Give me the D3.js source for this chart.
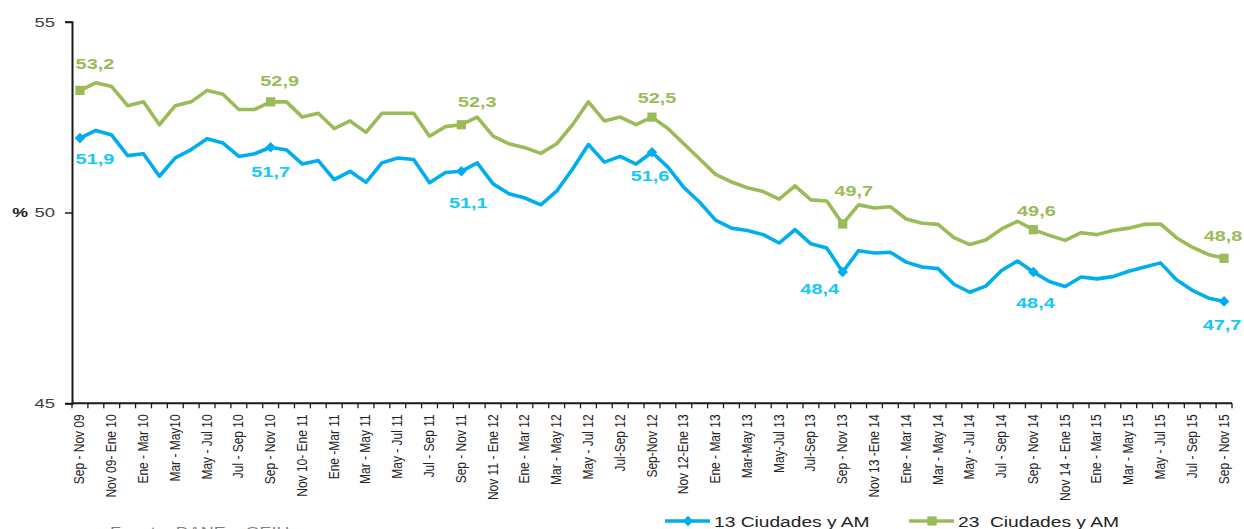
<!DOCTYPE html>
<html>
<head>
<meta charset="utf-8">
<script src="https://cdn.jsdelivr.net/npm/d3@7"></script>
<style>
  html, body { margin: 0; padding: 0; background: #fff; }
  svg { display: block; }
  text { font-family: "Liberation Sans", Arial, sans-serif; }
</style>
</head>
<body>
<svg id="chart" width="1244" height="529"></svg>
<script>
// ---------- DATA ----------
const categories = [
  "Sep - Nov 09", "Oct - Dic 09", "Nov 09- Ene 10", "Dic 09 - Feb 10", "Ene - Mar 10", "Feb - Abr 10",
  "Mar - May10", "Abr - Jun 10", "May - Jul 10", "Jun - Ago 10", "Jul - Sep 10", "Ago - Oct 10",
  "Sep - Nov 10", "Oct - Dic 10", "Nov 10- Ene 11", "Dic 10 - Feb 11", "Ene -Mar 11", "Feb - Abr 11",
  "Mar - May 11", "Abr - Jun 11", "May - Jul 11", "Jun - Ago 11", "Jul - Sep 11", "Ago - Oct 11",
  "Sep - Nov 11", "Oct - Dic 11", "Nov 11 - Ene 12", "Dic 11 - Feb 12", "Ene - Mar 12", "Feb - Abr 12",
  "Mar - May 12", "Abr - Jun 12", "May - Jul 12", "Jun - Ago 12", "Jul-Sep 12", "Ago - Oct 12",
  "Sep-Nov 12", "Oct - Dic 12", "Nov 12-Ene 13", "Dic 12 - Feb 13", "Ene - Mar 13", "Feb - Abr 13",
  "Mar-May 13", "Abr - Jun 13", "May-Jul 13", "Jun - Ago 13", "Jul-Sep 13", "Ago - Oct 13",
  "Sep - Nov 13", "Oct - Dic 13", "Nov 13 -Ene 14", "Dic 13 - Feb 14", "Ene - Mar 14", "Feb - Abr 14",
  "Mar - May 14", "Abr - Jun 14", "May - Jul 14", "Jun - Ago 14", "Jul - Sep 14", "Ago - Oct 14",
  "Sep - Nov 14", "Oct - Dic 14", "Nov 14 - Ene 15", "Dic 14 - Feb 15", "Ene - Mar 15", "Feb - Abr 15",
  "Mar - May 15", "Abr - Jun 15", "May - Jul 15", "Jun - Ago 15", "Jul - Sep 15", "Ago - Oct 15",
  "Sep - Nov 15"
];

// Every other category is labelled on the axis
const tickLabels = categories.filter((d, i) => i % 2 === 0);

const series13 = [
  51.95, 52.15, 52.03, 51.49, 51.54, 50.95, 51.43, 51.65, 51.93, 51.82,
  51.47, 51.54, 51.71, 51.64, 51.27, 51.36, 50.86, 51.08, 50.79, 51.30,
  51.43, 51.39, 50.78, 51.05, 51.08, 51.30, 50.75, 50.49, 50.38, 50.20,
  50.56, 51.14, 51.78, 51.32, 51.47, 51.27, 51.58, 51.19, 50.66, 50.27,
  49.80, 49.59, 49.53, 49.42, 49.20, 49.55, 49.18, 49.07, 48.44, 49.00,
  48.94, 48.96, 48.70, 48.57, 48.53, 48.12, 47.91, 48.07, 48.48, 48.73,
  48.44, 48.19, 48.06, 48.31, 48.26, 48.32, 48.46, 48.57, 48.68, 48.24,
  47.96, 47.76, 47.67
];

const series23 = [
  53.20, 53.40, 53.30, 52.80, 52.90, 52.30, 52.80, 52.90, 53.20, 53.10,
  52.70, 52.70, 52.90, 52.90, 52.50, 52.60, 52.20, 52.40, 52.10, 52.60,
  52.60, 52.60, 52.00, 52.25, 52.30, 52.50, 52.00, 51.80, 51.70, 51.55,
  51.80, 52.30, 52.90, 52.40, 52.50, 52.30, 52.50, 52.20, 51.80, 51.40,
  51.00, 50.80, 50.65, 50.55, 50.35, 50.70, 50.33, 50.30, 49.70, 50.20,
  50.12, 50.15, 49.83, 49.72, 49.69, 49.34, 49.16, 49.28, 49.57, 49.77,
  49.55, 49.40, 49.27, 49.47, 49.42, 49.53, 49.59, 49.69, 49.70, 49.34,
  49.09, 48.90, 48.80
];

const seriesNames = ["13 Ciudades y AM", "23  Ciudades y AM"];
const markedIndex = [0, 12, 24, 36, 48, 60, 72];
const labels13 = ["51,9", "51,7", "51,1", "51,6", "48,4", "48,4", "47,7"];
const labels23 = ["53,2", "52,9", "52,3", "52,5", "49,7", "49,6", "48,8"];
const yTicks = [45, 50, 55];

// ---------- LAYOUT (label offsets from their points, px) ----------
const off13 = [[15, 26], [0, 30], [7, 37], [-2, 29], [-23, 22], [2, 36], [-2, 29]];
const off23 = [[15, -21], [9, -16], [16, -18], [5, -14], [11, -28], [3, -14], [-1, -17]];

const COL13 = "#00AEEF", COL13L = "#16C8F6", COL23 = "#9BBB59";
const SX = 1.42; // horizontal stretch of the original picture's text

const svg = d3.select("#chart");

const x = d3.scaleBand().domain(categories).range([72, 1232]).padding(0);
const cx = c => x(c) + x.bandwidth() / 2;
const y = d3.scaleLinear().domain([45, 55]).range([403.3, 21.7]);

// ---------- Y axis ----------
const yAxis = svg.append("g")
  .attr("transform", "translate(72,0)")
  .call(d3.axisLeft(y).tickValues(yTicks).tickSize(7).tickFormat(d3.format("d")));
yAxis.select(".domain").attr("stroke", "#1a1a1a").attr("stroke-width", 2);
yAxis.selectAll(".tick line").attr("stroke", "#1a1a1a").attr("stroke-width", 1.5);
yAxis.selectAll(".tick text")
  .attr("x", null).attr("dy", "0.34em")
  .attr("transform", `translate(-17,0) scale(${SX},1)`)
  .attr("fill", "#404040").attr("font-size", 13)
  .style("font-family", '"Liberation Sans", Arial, sans-serif');
svg.append("text")
  .attr("transform", `translate(28,${y(50) + 4.5}) scale(${SX},1)`)
  .attr("text-anchor", "end").attr("font-size", 12.5).attr("font-weight", "bold")
  .attr("fill", "#1a1a1a").text("%");

// ---------- X axis ----------
const x0 = x.range()[0], x1 = x.range()[1], yb = y(45);
svg.append("line").attr("x1", x0).attr("x2", x1).attr("y1", yb).attr("y2", yb)
  .attr("stroke", "#1a1a1a").attr("stroke-width", 2);
const boundaries = categories.map(c => x(c)).concat([x1]);
svg.append("g").selectAll("line").data(boundaries).join("line")
  .attr("x1", d => d).attr("x2", d => d).attr("y1", yb).attr("y2", yb + 5)
  .attr("stroke", "#1a1a1a").attr("stroke-width", 1.3);
svg.append("g").selectAll("text").data(tickLabels).join("text")
  .attr("transform", d => `translate(${cx(d) + 4.5},${yb + 11}) scale(1.28,1) rotate(-90)`)
  .attr("text-anchor", "end").attr("font-size", 12).attr("fill", "#222")
  .text(d => d);

// ---------- Lines ----------
function drawSeries(vals, color) {
  const line = d3.line().x((d, i) => cx(categories[i])).y(d => y(d));
  svg.append("path").datum(vals)
    .attr("d", line).attr("fill", "none").attr("stroke", color)
    .attr("stroke-width", 3.6).attr("stroke-linejoin", "round").attr("stroke-linecap", "round");
}
drawSeries(series23, COL23);
drawSeries(series13, COL13);

// markers
const sq = d3.symbol().type(d3.symbolSquare).size(85);
const dm = d3.symbol().type(d3.symbolSquare).size(56);
svg.append("g").selectAll("path").data(markedIndex).join("path")
  .attr("d", sq)
  .attr("transform", i => `translate(${cx(categories[i])},${y(series23[i])})`)
  .attr("fill", COL23);
svg.append("g").selectAll("path").data(markedIndex).join("path")
  .attr("d", dm)
  .attr("transform", i => `translate(${cx(categories[i])},${y(series13[i])}) rotate(45)`)
  .attr("fill", COL13);

// data labels
function drawLabels(vals, texts, offs, color) {
  svg.append("g").selectAll("text").data(markedIndex).join("text")
    .attr("transform", (i, k) => `translate(${cx(categories[i]) + offs[k][0]},${y(vals[i]) + offs[k][1]}) scale(${SX},1)`)
    .attr("text-anchor", "middle").attr("font-size", 14).attr("font-weight", "bold")
    .attr("fill", color)
    .text((i, k) => texts[k]);
}
drawLabels(series23, labels23, off23, COL23);
drawLabels(series13, labels13, off13, COL13L);

// ---------- Legend ----------
const leg = [
  { name: seriesNames[0], color: COL13, x: 665, sym: dm, rot: 45 },
  { name: seriesNames[1], color: COL23, x: 909, sym: sq, rot: 0 }
];
const ly = 521;
leg.forEach(l => {
  svg.append("line").attr("x1", l.x).attr("x2", l.x + 45).attr("y1", ly).attr("y2", ly)
    .attr("stroke", l.color).attr("stroke-width", 3.6);
  svg.append("path").attr("d", l.sym)
    .attr("transform", `translate(${l.x + 23},${ly}) rotate(${l.rot})`).attr("fill", l.color);
  svg.append("text")
    .attr("transform", `translate(${l.x + 49},527) scale(1.37,1)`)
    .attr("font-size", 14).attr("fill", "#222").style("white-space", "pre")
    .text(l.name);
});

// ---------- Source (cut off at bottom) ----------
svg.append("text")
  .attr("transform", `translate(110,536) scale(1.38,1)`)
  .attr("font-size", 13).attr("fill", "#7f7f7f")
  .text("Fuente: DANE – GEIH");
</script>
</body>
</html>
